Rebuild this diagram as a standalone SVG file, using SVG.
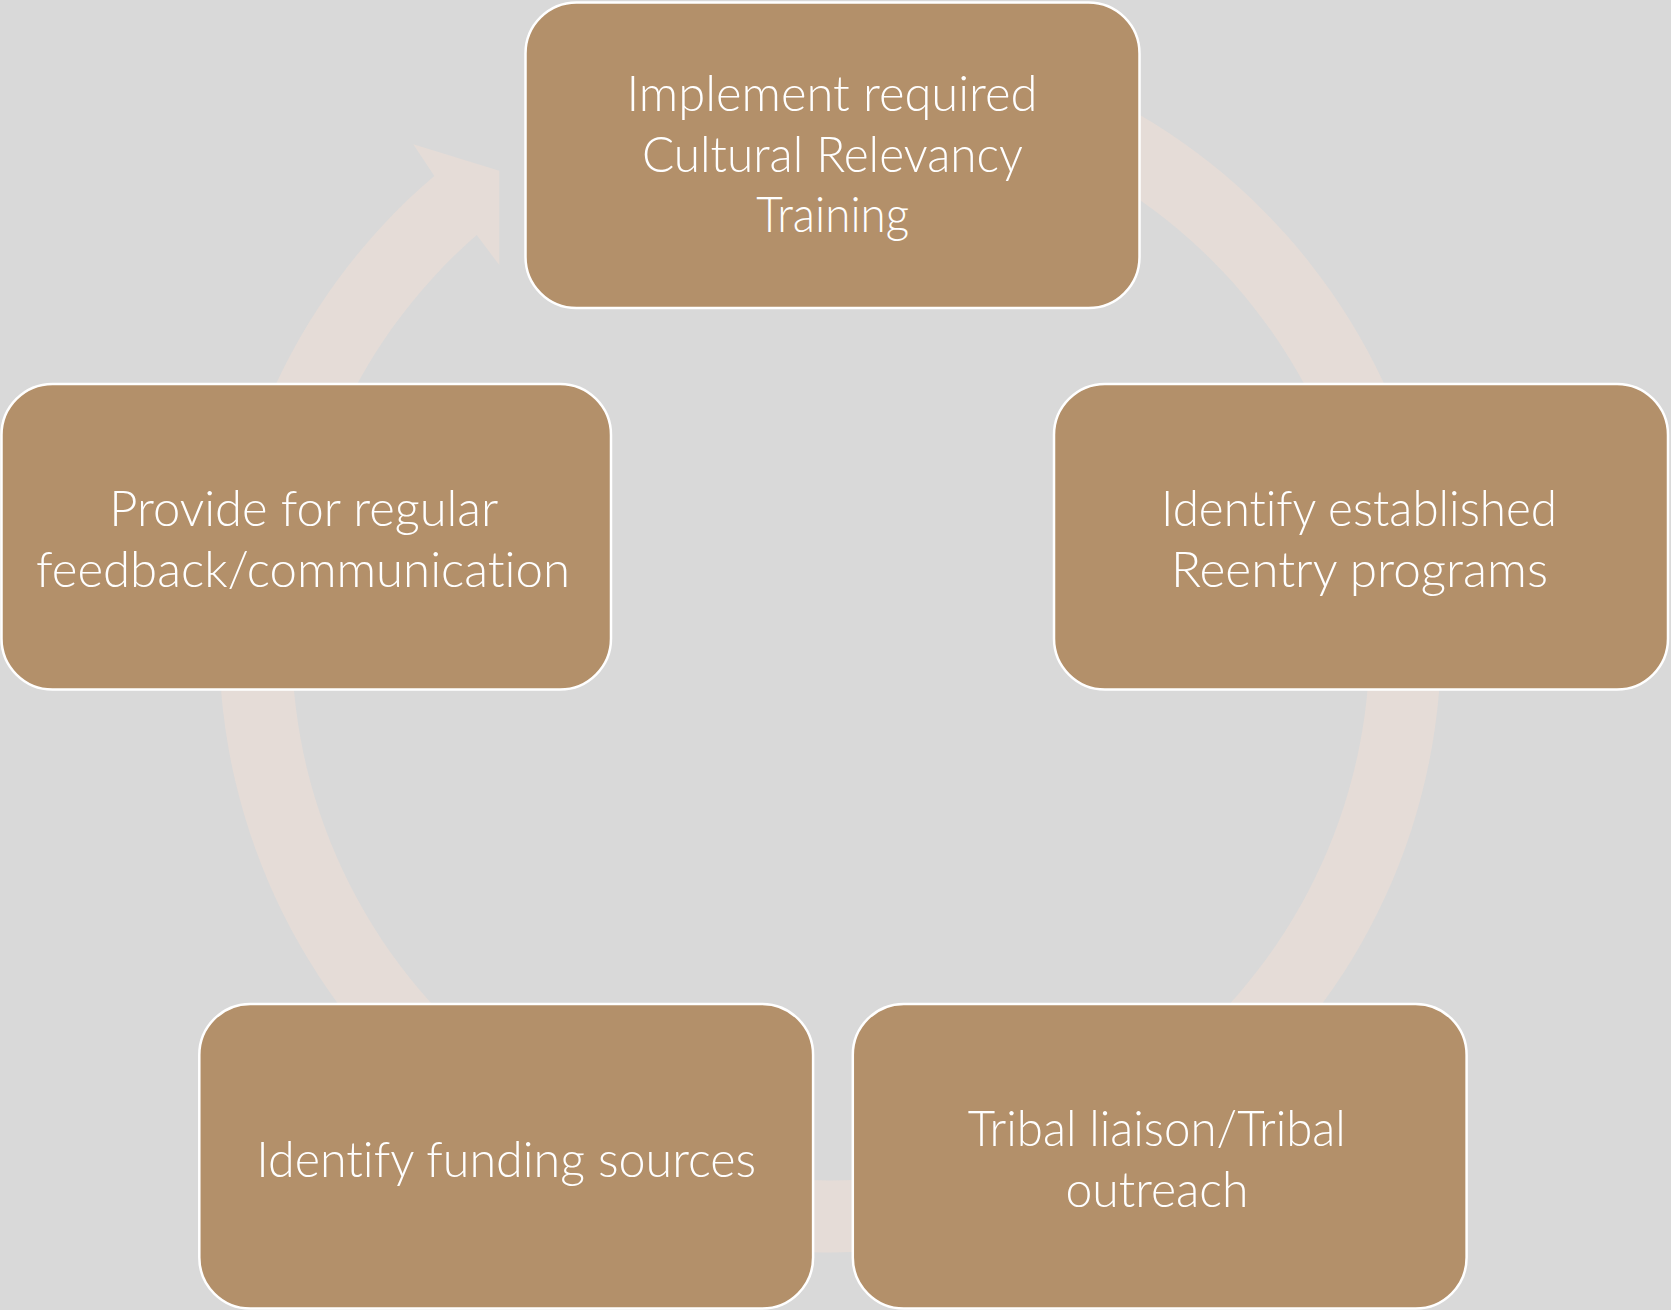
<svg xmlns="http://www.w3.org/2000/svg" width="1671" height="1310" viewBox="0 0 1671 1310">
  <style>
    .bg { fill: #D9D9D9; }
    .ring { fill: #E5DCD7; stroke: none; }
    .box { fill: #B3906A; stroke: #FFFFFF; stroke-width: 2.5; }
    .lbl { fill: #FFFFFF; font-family: "Lato", "Open Sans", "Liberation Sans", sans-serif; font-weight: 300; font-size: 50px; text-anchor: middle; font-variant-ligatures: none; font-feature-settings: "liga" 0, "dlig" 0; }
  </style>
  <rect class="bg" x="0" y="0" width="1671" height="1310"/>
  <g id="connectors">
    <path class="ring" d="M 853.3 30.9 A 611 611 0 1 1 434.3 176 L 413.3 144.3 L 499.3 170.7 L 499.3 265 L 476.7 235 A 539 539 0 1 0 850.8 102.8 Z"/>
  </g>
  <g id="node-training">
    <rect class="box" x="525.5" y="2.5" width="614" height="305.5" rx="51" ry="51"/>
    <text class="lbl" x="832" y="111" textLength="411" lengthAdjust="spacingAndGlyphs">Implement required</text>
    <text class="lbl" x="832.5" y="172" textLength="381" lengthAdjust="spacingAndGlyphs">Cultural Relevancy</text>
    <text class="lbl" x="832.7" y="232" textLength="153" lengthAdjust="spacingAndGlyphs">Training</text>
  </g>
  <g id="node-reentry">
    <rect class="box" x="1054" y="384" width="614" height="305.5" rx="51" ry="51"/>
    <text class="lbl" x="1359" y="525.7" textLength="396" lengthAdjust="spacingAndGlyphs">Identify established</text>
    <text class="lbl" x="1359.5" y="586.7" textLength="377" lengthAdjust="spacingAndGlyphs">Reentry programs</text>
  </g>
  <g id="node-tribal">
    <rect class="box" x="852.8" y="1004" width="613.8" height="304.5" rx="51" ry="51"/>
    <text class="lbl" x="1156.8" y="1145.7" textLength="378" lengthAdjust="spacingAndGlyphs">Tribal liaison/Tribal</text>
    <text class="lbl" x="1157" y="1206.7" textLength="183" lengthAdjust="spacingAndGlyphs">outreach</text>
  </g>
  <g id="node-funding">
    <rect class="box" x="199.3" y="1004" width="613.8" height="304.5" rx="51" ry="51"/>
    <text class="lbl" x="506.2" y="1176.7" textLength="500" lengthAdjust="spacingAndGlyphs">Identify funding sources</text>
  </g>
  <g id="node-feedback">
    <rect class="box" x="1.5" y="384" width="609.5" height="305.5" rx="51" ry="51"/>
    <text class="lbl" x="303.8" y="525.7" textLength="389" lengthAdjust="spacingAndGlyphs">Provide for regular</text>
    <text class="lbl" x="303" y="586.7" textLength="534" lengthAdjust="spacingAndGlyphs">feedback/communication</text>
  </g>
</svg>
